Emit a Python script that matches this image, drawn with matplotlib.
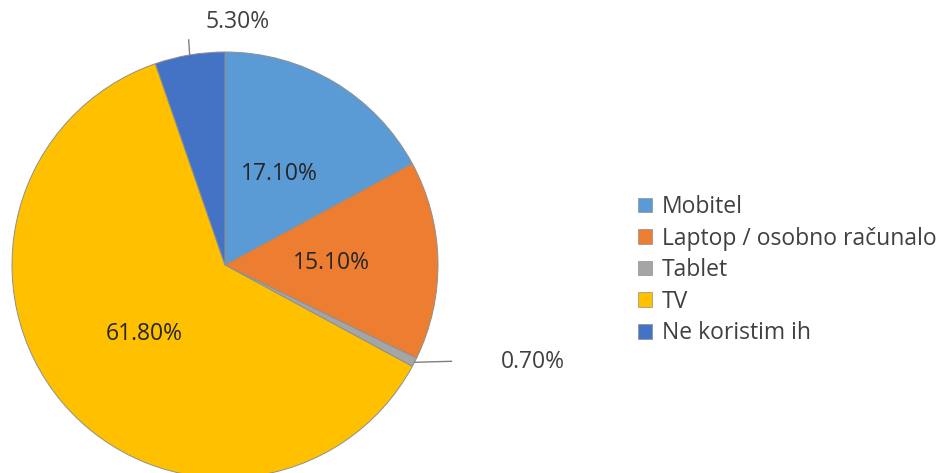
import matplotlib
matplotlib.use("Agg")
import matplotlib.pyplot as plt
from matplotlib.patches import Patch
import numpy as np

categories = ["Mobitel", "Laptop / osobno računalo", "Tablet", "TV", "Ne koristim ih"]
values = [17.1, 15.1, 0.7, 61.8, 5.3]
labels = ["17.10%", "15.10%", "0.70%", "61.80%", "5.30%"]
colors = ["#5B9BD5", "#ED7D31", "#A5A5A5", "#FFC000", "#4472C4"]

W, H = 941, 473
fig = plt.figure(figsize=(W / 100, H / 100), dpi=100)
ax = fig.add_axes([0, 0, 1, 1])

cx, cy, R = 225, H - 265, 213
font = "Open Sans"
fs = 16.5
wedges, _ = ax.pie(values, startangle=90, counterclock=False, colors=colors,
                   center=(cx, cy), radius=R, frame=True,
                   wedgeprops=dict(edgecolor="#8f8f8f", linewidth=0.7))
ax.set_xlim(0, W)
ax.set_ylim(0, H)
ax.axis("off")

total = sum(values)
start = 90.0
for i, (v, lab) in enumerate(zip(values, labels)):
    span = v / total * 360
    mid = np.deg2rad(start - span / 2)
    start -= span
    if v > 10:
        x = cx + 0.5 * R * np.cos(mid)
        y = cy + 0.5 * R * np.sin(mid)
        ax.text(x, y, lab, ha="center", va="center", fontsize=fs,
                color="#262626", family=font)
    else:
        ex = cx + R * np.cos(mid)
        ey = cy + R * np.sin(mid)
        if np.cos(mid) > 0.5:
            ax.plot([ex, ex + 37], [ey, ey + 1], color="#7f7f7f", lw=1)
            ax.text(533, ey, lab, ha="center", va="center", fontsize=fs,
                    color="#404040", family=font)
        else:
            ax.plot([ex, ex - 1], [ey, ey + 15], color="#7f7f7f", lw=1)
            ax.text(238, H - 22, lab, ha="center", va="center", fontsize=fs,
                    color="#404040", family=font)

handles = [Patch(facecolor=c, edgecolor="#8f8f8f", linewidth=0.5) for c in colors]
leg = ax.legend(handles, categories, loc="upper left",
                bbox_to_anchor=(638 / W, 1 - 195 / H), frameon=False,
                prop=dict(family=font, size=fs), handlelength=0.62,
                handleheight=0.62, handletextpad=0.42, labelspacing=0.33,
                borderaxespad=0, borderpad=0)
for t in leg.get_texts():
    t.set_color("#404040")

fig.savefig("out.png", dpi=100)
